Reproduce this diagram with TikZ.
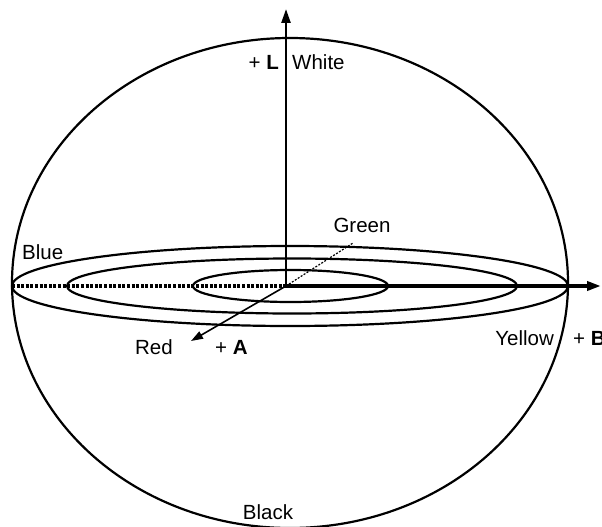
\documentclass[tikz,border=0pt]{standalone}
\usepackage{fontspec}
\setmainfont{Liberation Sans}
\usetikzlibrary{arrows.meta}

\begin{document}
\begin{tikzpicture}[
            x=1pt, y=-1pt,
            every node/.style={font=\fontsize{20.5}{24}\selectfont, inner sep=0pt},
            ring/.style={line width=2.2pt},
            axis/.style={line width=2.6pt, -{Triangle[length=14pt, width=9pt]}}
        ]

        \useasboundingbox (0,0) rectangle (602,527);

        % sphere and the slices
        \draw[ring] (290,283) ellipse [x radius=278, y radius=245];
        \draw[ring] (290,286) ellipse [x radius=278, y radius=40];
        \draw[ring] (292,286) ellipse [x radius=225, y radius=27.5];
        \draw[ring] (290.5,286) ellipse [x radius=97.5, y radius=16];

        \coordinate (O) at (286,286);
        \coordinate (Ltip) at (286,9);
        \coordinate (Btip) at (601,286);
        \coordinate (Atip) at (191,341);
        \coordinate (Gend) at (353,243);
        \coordinate (Bend) at (12,286);

        % axes
        \draw[line width=3.2pt, dash pattern=on 3pt off 1.6pt] (Bend) -- (O);
        \draw[line width=1.2pt, dash pattern=on 2pt off 1.5pt] (O) -- (Gend);
        \draw[axis, line width=2.4pt] (O) -- (Ltip);
        \draw[axis, line width=4pt] (O) -- (Btip);
        \draw[line width=1.6pt, -{Triangle[length=12pt, width=8pt]}] (O) -- (Atip);

        % labels
        \node[anchor=east] (plusL) at (279,62) {+ \textbf{L}};
        \node[anchor=west] (white) at (292,62) {White};
        \node (green) at (362,225) {Green};
        \node[anchor=west] (blue) at (22,252) {Blue};
        \node[anchor=east] (red) at (173,347) {Red};
        \node[anchor=west] (plusA) at (215,347) {+ \textbf{A}};
        \node[anchor=east] (yellow) at (554,338) {Yellow};
        \node[anchor=west] (plusB) at (573,338) {+ \textbf{B}};
        \node (black) at (268,512) {Black};

    \end{tikzpicture}
\end{document}
